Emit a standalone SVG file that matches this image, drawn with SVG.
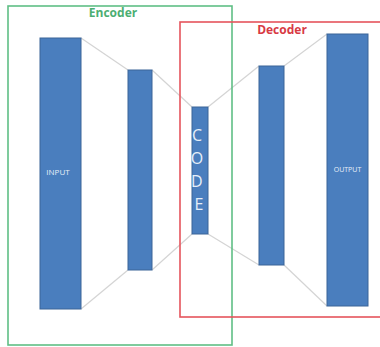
<svg xmlns="http://www.w3.org/2000/svg" width="380" height="347" viewBox="0 0 380 347">
  <style>
    .bar { fill: #4a7ebe; stroke: #3b6598; stroke-width: 1; }
    .link { stroke: #d4d4d4; stroke-width: 1.2; fill: none; }
    .lbl { font-family: "Open Sans", "Liberation Sans", sans-serif; fill: #e6eef8; text-anchor: middle; }
    .title { font-family: "Open Sans", "Liberation Sans", sans-serif; font-weight: bold; font-size: 12px; text-anchor: middle; }
  </style>
  <rect width="380" height="347" fill="#ffffff"/>

  <!-- funnel outlines between the layers -->
  <g id="connectors">
    <line class="link" x1="81" y1="38" x2="128" y2="70"/>
    <line class="link" x1="81" y1="309" x2="128" y2="270"/>
    <line class="link" x1="152" y1="70" x2="192" y2="107"/>
    <line class="link" x1="152" y1="270" x2="192" y2="234"/>
    <line class="link" x1="208" y1="107" x2="259" y2="66"/>
    <line class="link" x1="208" y1="234" x2="259" y2="265"/>
    <line class="link" x1="284" y1="66" x2="327" y2="34"/>
    <line class="link" x1="284" y1="265" x2="327" y2="306"/>
  </g>

  <g id="input">
    <rect class="bar" x="40" y="38" width="41" height="271"/>
    <text class="lbl" x="58" y="175" font-size="8">INPUT</text>
  </g>
  <g id="hidden-enc">
    <rect class="bar" x="128" y="70" width="24" height="200"/>
  </g>
  <g id="code">
    <rect class="bar" x="192" y="107" width="16" height="127"/>
    <text class="lbl" font-size="16">
      <tspan x="199" y="141">C</tspan>
      <tspan x="199" y="164">O</tspan>
      <tspan x="199" y="187">D</tspan>
      <tspan x="199" y="210">E</tspan>
    </text>
  </g>
  <g id="hidden-dec">
    <rect class="bar" x="259" y="66" width="25" height="199"/>
  </g>
  <g id="output">
    <rect class="bar" x="327" y="34" width="41" height="272"/>
    <text class="lbl" x="347.5" y="172" font-size="7">OUTPUT</text>
  </g>

  <g id="encoder">
    <rect x="8" y="6" width="224" height="339" fill="none" stroke="#5fbf85" stroke-width="1.6"/>
    <text class="title" x="113" y="17" fill="#4cae72">Encoder</text>
  </g>
  <g id="decoder">
    <rect x="180" y="22" width="210" height="295" fill="none" stroke="#e5545c" stroke-width="1.6"/>
    <text class="title" x="282" y="34" fill="#d83a44">Decoder</text>
  </g>
</svg>
